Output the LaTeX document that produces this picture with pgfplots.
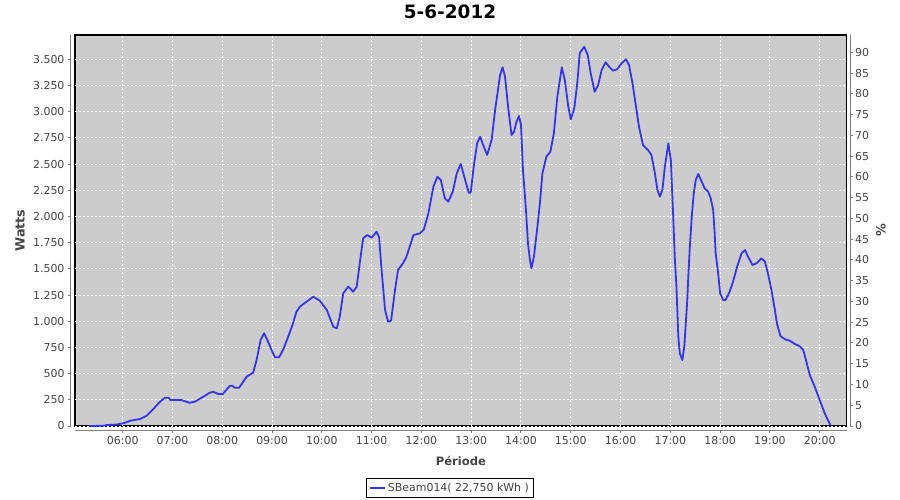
\documentclass[border=0pt]{standalone}
\usepackage{fontspec}
\setmainfont{DejaVu Sans}
\usepackage{pgfplots}
\pgfplotsset{compat=1.18}

\definecolor{plotbg}{RGB}{204,204,204}
\definecolor{serie}{RGB}{51,51,255}
\definecolor{ticktext}{RGB}{68,68,68}
\definecolor{axisgray}{RGB}{128,128,128}

\pgfplotstableread{
h W
5.33 0
5.60 2
5.67 8
5.88 15
6.01 25
6.15 50
6.35 67
6.48 98
6.61 159
6.75 232
6.85 270
6.92 270
6.96 248
7.18 248
7.34 222
7.45 232
7.62 280
7.75 318
7.82 327
7.92 305
8.01 305
8.15 382
8.20 385
8.25 366
8.34 366
8.49 471
8.62 509
8.69 630
8.77 821
8.84 885
8.92 805
8.99 725
9.06 656
9.14 656
9.22 725
9.32 847
9.41 964
9.49 1091
9.56 1139
9.63 1165
9.83 1234
9.96 1196
10.10 1107
10.23 948
10.30 932
10.36 1043
10.43 1267
10.53 1330
10.63 1282
10.70 1330
10.77 1585
10.83 1792
10.91 1823
11.00 1798
11.10 1855
11.15 1801
11.20 1489
11.27 1107
11.33 996
11.39 1005
11.47 1298
11.53 1489
11.63 1553
11.70 1616
11.84 1823
11.97 1839
12.05 1877
12.14 2030
12.24 2284
12.32 2380
12.39 2348
12.47 2174
12.54 2141
12.63 2237
12.71 2412
12.79 2501
12.86 2380
12.95 2227
12.99 2227
13.05 2475
13.12 2700
13.18 2762
13.24 2682
13.32 2587
13.41 2730
13.48 3016
13.58 3351
13.63 3424
13.68 3334
13.74 3048
13.81 2778
13.86 2810
13.91 2905
13.96 2959
14.00 2873
14.04 2444
14.10 2062
14.14 1744
14.18 1585
14.21 1505
14.26 1616
14.33 1903
14.38 2126
14.43 2412
14.51 2571
14.59 2618
14.66 2794
14.73 3144
14.82 3424
14.88 3303
14.95 3048
15.00 2927
15.07 3033
15.13 3271
15.18 3558
15.27 3621
15.34 3542
15.40 3367
15.48 3191
15.55 3255
15.62 3398
15.70 3472
15.77 3430
15.85 3392
15.93 3405
16.02 3462
16.11 3501
16.17 3446
16.24 3271
16.31 3048
16.37 2857
16.45 2682
16.55 2635
16.62 2587
16.69 2412
16.74 2253
16.79 2189
16.84 2253
16.89 2475
16.96 2698
17.01 2539
17.06 1966
17.09 1600
17.12 1350
17.14 1107
17.16 852
17.19 694
17.24 630
17.28 757
17.31 980
17.34 1203
17.36 1425
17.39 1700
17.43 1998
17.47 2221
17.51 2348
17.56 2406
17.63 2332
17.69 2269
17.76 2237
17.81 2174
17.86 2062
17.89 1839
17.91 1648
17.96 1458
18.00 1267
18.06 1203
18.11 1203
18.19 1282
18.26 1378
18.34 1521
18.43 1648
18.50 1680
18.56 1616
18.65 1537
18.73 1553
18.83 1601
18.90 1569
18.96 1458
19.03 1298
19.10 1107
19.14 980
19.21 859
19.30 828
19.40 814
19.50 783
19.59 764
19.67 725
19.74 599
19.80 487
19.90 375
20.00 248
20.10 121
20.22 3
}\production

\begin{document}
\begin{tikzpicture}
\useasboundingbox (-75bp,-74bp) rectangle (825bp,426bp);
\pgfplotsset{
  jfree/.style={
    scale only axis, width=771.7bp, height=391bp,
    at={(0bp,0bp)}, anchor=south west,
    xmin=5.042, xmax=20.542,
    tick align=outside,
    major tick length=3bp,
    tick style={axisgray, line width=1bp},
    axis line style={axisgray, line width=1bp},
    tick label style={font=\fontsize{11}{13}\selectfont, text=ticktext},
    /pgf/number format/assume math mode=true,
  },
}
\begin{axis}[
  jfree,
  axis lines*=left,
  axis x line shift=4bp,
  axis y line shift=4bp,
  ymin=0, ymax=3732.5,
  axis background/.style={fill=plotbg, draw=black, line width=1.2bp},
  xtick={6,...,20},
  xticklabels={06:00,07:00,08:00,09:00,10:00,11:00,12:00,13:00,14:00,15:00,16:00,17:00,18:00,19:00,20:00},
  ytick={0,250,...,3500},
  yticklabels={0,250,500,750,{1.000},{1.250},{1.500},{1.750},{2.000},{2.250},{2.500},{2.750},{3.000},{3.250},{3.500}},
  grid=major,
  major grid style={white, line width=1bp, dash pattern=on 2bp off 2bp},
  every axis title shift=0pt,
  title={5-6-2012},
  title style={at={(axis description cs:0.486,1.0417)}, anchor=base,
    font=\fontsize{18.5}{20}\selectfont\bfseries},
  xlabel={Période},
  xlabel style={at={(axis description cs:0.5,-0.1023)}, anchor=base,
    font=\fontsize{11.6}{13}\selectfont\bfseries, text=ticktext},
  ylabel={Watts},
  ylabel style={at={(axis description cs:-0.0713,0.5)}, anchor=center,
    font=\fontsize{12.8}{14}\selectfont\bfseries, text=ticktext},
  legend style={at={(axis description cs:0.486,-0.1586)}, anchor=center,
    draw=black, line width=1bp, fill=white,
    font=\fontsize{11}{13}\selectfont, text=ticktext,
    inner xsep=2.5bp, inner ysep=2.5bp},
  legend image code/.code={\draw[#1] (0bp,0bp) -- (15bp,0bp);},
]
\addplot[serie, line width=1.8bp, line join=round] table[x=h, y=W] {\production};
\addlegendentry{SBeam014( 22,750 kWh )}
\end{axis}
\begin{axis}[
  jfree,
  axis x line=none,
  axis y line*=right,
  axis y line shift=3.3bp,
  ymin=0, ymax=94.17,
  ytick={0,5,...,90},
  yticklabel style={xshift=-1.3bp},
  ylabel={\%},
  ylabel style={at={(axis description cs:1.0445,0.5)}, anchor=center,
    font=\fontsize{12.8}{14}\selectfont\bfseries, text=ticktext},
]
\end{axis}
\end{tikzpicture}
\end{document}
